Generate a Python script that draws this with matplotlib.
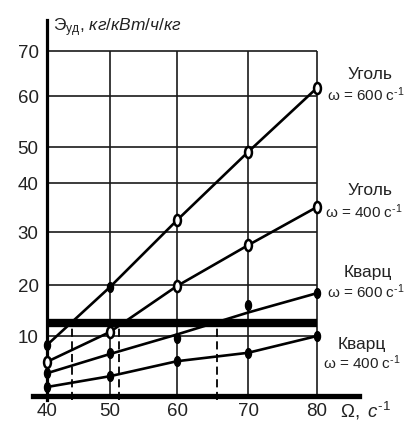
import numpy as np
import matplotlib
matplotlib.use("Agg")
import matplotlib.pyplot as plt
from matplotlib.path import Path
from matplotlib.transforms import Affine2D

plt.rcParams["font.family"] = ["Liberation Sans", "DejaVu Sans"]
plt.rcParams["mathtext.fontset"] = "custom"
plt.rcParams["mathtext.rm"] = "Liberation Sans"
plt.rcParams["mathtext.it"] = "Liberation Sans:italic"
plt.rcParams["mathtext.bf"] = "Liberation Sans:bold"

# rotational speed of the rotor, 1/s
omega_rot = [40, 50, 60, 70, 80]

# specific energy, kg/kW/h/kg
coal_600 = [8.5, 19.6, 32.4, 48.6, 61.8]
coal_400 = [5.7, 10.8, 19.8, 27.5, 35.1]
quartz_600_pts = [3.8, 7.2, 9.7, 16.1, 18.4]
quartz_600_fit = [3.8, 7.0, 10.3, 14.6, 18.4]
quartz_400 = [1.5, 3.3, 5.8, 7.2, 10.0]

# limiting level and where the curves reach it
limit_level = 12.5
limit_crossings = [44.0, 51.3, 65.6]

x_ticks = [40, 50, 60, 70, 80]
y_ticks = [10, 20, 30, 40, 50, 60, 70]

# hand-drawn grid spacing of the original nomogram
x_knots = [40, 50, 60, 70, 80]
x_pos = [47, 110, 177, 248, 317]
y_knots = [0, 10, 20, 30, 40, 50, 60, 70]
y_pos = [0, 60, 111, 164, 213, 249, 300, 345]


def piecewise(knots, pos):
    k = np.asarray(knots, float)
    p = np.asarray(pos, float)

    def _map(v, a, b):
        v = np.asarray(v, float)
        out = np.interp(v, a, b)
        lo = v < a[0]
        hi = v > a[-1]
        out = np.where(lo, b[0] + (v - a[0]) * (b[1] - b[0]) / (a[1] - a[0]), out)
        out = np.where(hi, b[-1] + (v - a[-1]) * (b[-1] - b[-2]) / (a[-1] - a[-2]), out)
        return out

    return (lambda v: _map(v, k, p)), (lambda v: _map(v, p, k))


fx, ix = piecewise(x_knots, x_pos)
fy, iy = piecewise(y_knots, y_pos)

fig = plt.figure(figsize=(4.11, 4.23), dpi=100)
ax = fig.add_axes([33 / 411, 23 / 423, 326 / 411, 380 / 423])
ax.set_xscale("function", functions=(fx, ix))
ax.set_yscale("function", functions=(fy, iy))
ax.set_xlim(float(ix(33)), float(ix(359)))
ax.set_ylim(float(iy(-4)), float(iy(376)))

for s in ("top", "right"):
    ax.spines[s].set_visible(False)
ax.spines["left"].set_position(("data", 40))
ax.spines["left"].set_linewidth(2.3)
ax.spines["bottom"].set_position(("data", 0))
ax.spines["bottom"].set_linewidth(3.8)

ax.set_xticks(x_ticks)
ax.set_xticklabels([str(t) for t in x_ticks])
ax.set_yticks(y_ticks)
ax.set_yticklabels([str(t) for t in y_ticks])
ax.minorticks_off()
ax.tick_params(axis="x", length=0, pad=5, labelsize=13.5, labelcolor="#222222")
ax.tick_params(axis="y", length=0, pad=6, labelsize=13.5, labelcolor="#222222")

grid_kw = dict(color="#1a1a1a", lw=1.2, zorder=1)
ax.hlines(y_ticks, x_ticks[0], x_ticks[-1], **grid_kw)
ax.vlines(x_ticks[1:], 0, y_ticks[-1], **grid_kw)

# limiting band
ax.hlines(limit_level, x_ticks[0], x_ticks[-1], color="black", lw=6.0, zorder=3)
ax.vlines(limit_crossings, -0.6, 11.6, color="black", lw=1.3,
          linestyles=(0, (4.5, 2.5)), zorder=2)

ellipse = Path.unit_circle().transformed(Affine2D().scale(0.62, 1.0))
line_kw = dict(color="black", lw=1.9, zorder=4)
open_kw = dict(marker=ellipse, ms=8.0, mfc="white", mec="black", mew=1.8,
               ls="none", zorder=5)
fill_kw = dict(marker=ellipse, ms=7.0, mfc="black", mec="black", mew=1.0,
               ls="none", zorder=5)

ax.plot(omega_rot, coal_600, **line_kw)
ax.plot(omega_rot[:2], coal_600[:2], **fill_kw)
ax.plot(omega_rot[2:], coal_600[2:], **open_kw)

ax.plot(omega_rot, coal_400, **line_kw)
ax.plot(omega_rot, coal_400, **open_kw)

ax.plot(omega_rot, quartz_600_fit, **line_kw)
ax.plot(omega_rot, quartz_600_pts, **fill_kw)

ax.plot(omega_rot, quartz_400, **line_kw)
ax.plot(omega_rot, quartz_400, **fill_kw)

# curve captions at the right end
captions = [
    ("Уголь", "600", coal_600[-1], (53, 13), (10, -7)),
    ("Уголь", "400", coal_400[-1], (53, 17), (8, -5)),
    ("Кварц", "600", quartz_600_fit[-1], (51, 21), (10, 1)),
    ("Кварц", "400", quartz_400[-1], (45, -8), (6, -27)),
]
for name, w, yv, off_name, off_w in captions:
    ax.annotate(name, xy=(80, yv), xytext=(off_name[0] * 0.72, off_name[1] * 0.72),
                textcoords="offset points", ha="center", va="center",
                fontsize=12.5, color="#222222", annotation_clip=False)
    ax.annotate("ω = " + w + r" c$^{\text{-1}}$", xy=(80, yv),
                xytext=(off_w[0] * 0.72, off_w[1] * 0.72),
                textcoords="offset points", ha="left", va="center",
                fontsize=11, color="#222222", annotation_clip=False)

fig.text(340 / 411, 1 - 411 / 423, r"$\mathit{Ω},\ \mathit{c}^{\mathit{\text{-1}}}$",
         fontsize=13.5, ha="left", va="center", color="#222222")
fig.text(53 / 411, 1 - 28 / 423,
         r"Э$_{\mathrm{уд}}$, $\mathit{кг/кВт/ч/кг}$",
         fontsize=12.5, ha="left", va="center", color="#222222")

fig.savefig("out.png", dpi=100)
